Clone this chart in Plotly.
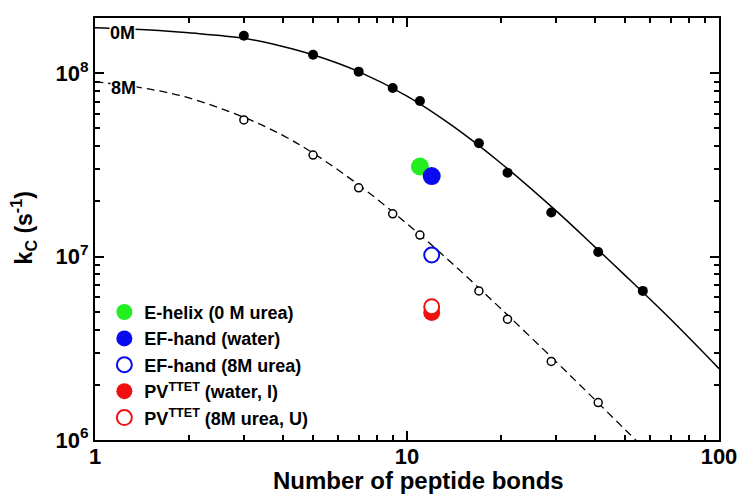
import plotly.graph_objects as go

# Loop length (number of peptide bonds) for the (Gly-Ser)n series
n_bonds = [3, 5, 7, 9, 11, 17, 21, 29, 41, 57]
kc_water = [1.60e8, 1.26e8, 1.02e8, 8.3e7, 7.06e7, 4.15e7, 2.87e7, 1.74e7, 1.06e7, 6.5e6]
n_bonds_urea = [3, 5, 7, 9, 11, 17, 21, 29, 41]
kc_urea = [5.56e7, 3.58e7, 2.37e7, 1.71e7, 1.31e7, 6.5e6, 4.56e6, 2.68e6, 1.60e6]

# Fitted curves
fit_n_water = [1, 1.5, 2, 3, 4, 5, 7, 10, 14, 20, 30, 40, 50, 70, 100]
fit_kc_water = [1.77e8, 1.72e8, 1.66e8, 1.55e8, 1.40e8, 1.26e8, 1.02e8, 7.5e7, 5.16e7,
                3.23e7, 1.78e7, 1.13e7, 7.9e6, 4.55e6, 2.45e6]
fit_n_urea = [1, 1.5, 2, 3, 4, 5, 7, 10, 14, 20, 30, 40, 50, 60]
fit_kc_urea = [8.99e7, 8.18e7, 7.33e7, 5.75e7, 4.58e7, 3.67e7, 2.46e7, 1.51e7, 9.14e6,
               5.2e6, 2.68e6, 1.66e6, 1.14e6, 8.4e5]

# Individual protein loops
ehelix_n, ehelix_kc = [11], [3.10e7]
ef_water_n, ef_water_kc = [12], [2.75e7]
ef_urea_n, ef_urea_kc = [12], [1.02e7]
pv_water_n, pv_water_kc = [12], [4.95e6]
pv_urea_n, pv_urea_kc = [12], [5.33e6]

x_tickvals = [1, 10, 100]
x_ticktext = ["1", "10", "100"]
y_tickvals = [1e6, 1e7, 1e8]
y_ticktext = ["10<sup>6</sup>", "10<sup>7</sup>", "10<sup>8</sup>"]

FONT = "Liberation Sans, Arial, Helvetica, sans-serif"

fig = go.Figure()

fig.add_trace(go.Scatter(x=fit_n_water, y=fit_kc_water, mode="lines",
                         line=dict(color="black", width=1.5, shape="spline"),
                         showlegend=False, hoverinfo="skip"))
fig.add_trace(go.Scatter(x=fit_n_urea, y=fit_kc_urea, mode="lines",
                         line=dict(color="black", width=1.3, shape="spline", dash="8px,5px"),
                         showlegend=False, hoverinfo="skip"))
fig.add_trace(go.Scatter(x=n_bonds, y=kc_water, mode="markers",
                         marker=dict(color="black", size=10, line=dict(width=0)),
                         showlegend=False))
fig.add_trace(go.Scatter(x=n_bonds_urea, y=kc_urea, mode="markers",
                         marker=dict(color="white", size=8, line=dict(color="black", width=1.5)),
                         showlegend=False))

fig.add_trace(go.Scatter(x=ehelix_n, y=ehelix_kc, mode="markers", name="E-helix (0 M urea)",
                         marker=dict(color="#22ee22", size=18, line=dict(width=0))))
fig.add_trace(go.Scatter(x=ef_water_n, y=ef_water_kc, mode="markers", name="EF-hand (water)",
                         marker=dict(color="#0a0af0", size=18, line=dict(width=0))))
fig.add_trace(go.Scatter(x=ef_urea_n, y=ef_urea_kc, mode="markers", name="EF-hand (8M urea)",
                         marker=dict(color="white", size=15, line=dict(color="#0a0af0", width=2))))
fig.add_trace(go.Scatter(x=pv_water_n, y=pv_water_kc, mode="markers",
                         name="PV<sup>TTET</sup> (water, I)",
                         marker=dict(color="#f01010", size=17, line=dict(width=0))))
fig.add_trace(go.Scatter(x=pv_urea_n, y=pv_urea_kc, mode="markers",
                         name="PV<sup>TTET</sup> (8M urea, U)",
                         marker=dict(color="white", size=15, line=dict(color="#f01010", width=2))))

axis_common = dict(
    type="log", showgrid=False, zeroline=False,
    showline=True, linecolor="black", linewidth=2, mirror="ticks",
    ticks="inside", ticklen=9, tickwidth=1.5, tickcolor="black",
    tickfont=dict(family=FONT, size=22, color="black", weight="bold"),
)

fig.update_xaxes(range=[0, 2], tickvals=x_tickvals, ticktext=x_ticktext,
                 ticklabelstandoff=-4,
                 minor=dict(ticks="inside", ticklen=5, tickwidth=1.5, tickcolor="black",
                            tickvals=[m * d for d in (1, 10) for m in range(2, 10)]),
                 **axis_common)
fig.update_yaxes(range=[6, 8.301], tickvals=y_tickvals, ticktext=y_ticktext,
                 ticklabelstandoff=0,
                 minor=dict(ticks="inside", ticklen=5, tickwidth=1.5, tickcolor="black",
                            tickvals=[m * d for d in (1e6, 1e7) for m in range(2, 10)]),
                 **axis_common)

fig.update_layout(
    width=749, height=495,
    margin=dict(l=95, r=21, t=18, b=55),
    plot_bgcolor="white", paper_bgcolor="white",
    font=dict(family=FONT, color="black"),
    legend=dict(x=0.015, y=0.3465, xanchor="left", yanchor="top",
                bgcolor="rgba(0,0,0,0)", tracegroupgap=0,
                font=dict(family=FONT, size=18, color="black", weight="bold")),
    annotations=[
        dict(text="<b>Number of peptide bonds</b>", xref="paper", yref="paper",
             x=0.518, y=-0.095, xanchor="center", yanchor="middle", showarrow=False,
             font=dict(family=FONT, size=24, color="black")),
        dict(text="<b>k<sub>C</sub> (s<sup>-1</sup>)</b>", xref="paper", yref="paper",
             x=-0.115, y=0.502, xanchor="center", yanchor="middle", showarrow=False,
             textangle=-90, font=dict(family=FONT, size=23, color="black")),
        dict(text="<b>0M</b>", xref="paper", yref="paper", x=0.0442, y=0.9645,
             xanchor="center", yanchor="middle", showarrow=False, bgcolor="white",
             borderpad=0, font=dict(family=FONT, size=18, color="black")),
        dict(text="<b>8M</b>", xref="paper", yref="paper", x=0.0458, y=0.8353,
             xanchor="center", yanchor="middle", showarrow=False, bgcolor="white",
             borderpad=0, font=dict(family=FONT, size=18, color="black")),
    ],
)

fig.write_html("out.html")
